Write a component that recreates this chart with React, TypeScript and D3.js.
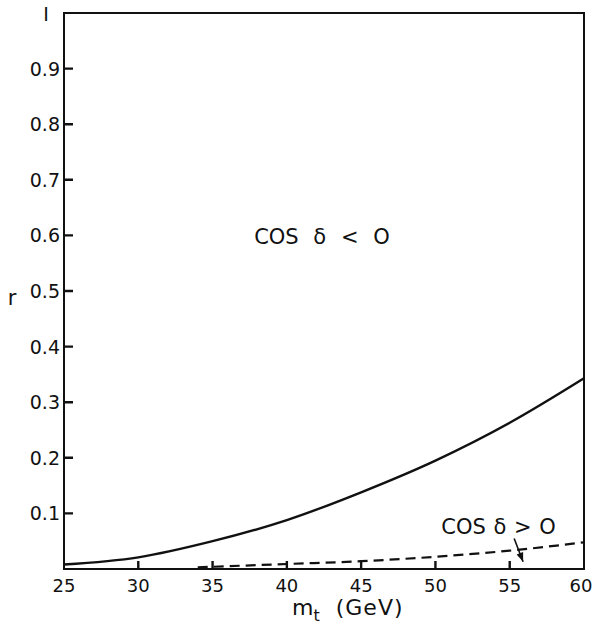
import { useEffect, useRef } from "react";
import * as d3 from "d3";

// m_t (GeV) vs r
const solidMt = [25, 30, 35, 40, 45, 50, 55, 60];
const solidR = [0.008, 0.021, 0.05, 0.088, 0.138, 0.195, 0.263, 0.343];

const dashedMt = [34, 35, 40, 45, 50, 55, 60];
const dashedR = [0.003, 0.004, 0.009, 0.014, 0.022, 0.033, 0.048];

const xTicks = [25, 30, 35, 40, 45, 50, 55, 60];
const yTicks = [0.1, 0.2, 0.3, 0.4, 0.5, 0.6, 0.7, 0.8, 0.9];
const yTickLabels = ["0.1", "0.2", "0.3", "0.4", "0.5", "0.6", "0.7", "0.8", "0.9"];

const labelUpper = "COS δ < O";
const labelLower = "COS δ > O";
const arrowFrom = [55.3, 0.055];
const arrowTo = [55.9, 0.013];

export default function App() {
  const svgRef = useRef<SVGSVGElement | null>(null);

  useEffect(() => {
    const W = 593, H = 627;
    const el = svgRef.current!;
    d3.select(el).selectAll("*").remove();
    const svg = d3.select(el).attr("viewBox", `0 0 ${W} ${H}`);
    const font = "'DejaVu Sans', 'Liberation Sans', sans-serif";

    const x = d3.scaleLinear().domain([25, 60]).range([64, 584]);
    const y = d3.scaleLinear().domain([0, 1]).range([569, 13]);

    // frame
    svg.append("rect")
      .attr("x", x(25)).attr("y", y(1))
      .attr("width", x(60) - x(25)).attr("height", y(0) - y(1))
      .attr("fill", "none").attr("stroke", "#111").attr("stroke-width", 2);

    // inward ticks
    const tickPath = [
      ...xTicks.slice(1, -1).map(d => `M${x(d)},${y(0)}V${y(0) - 8}`),
      ...yTicks.map(d => `M${x(25)},${y(d)}H${x(25) + 9}`),
    ].join("");
    svg.append("path")
      .attr("d", tickPath)
      .attr("fill", "none").attr("stroke", "#111").attr("stroke-width", 2.4);

    // tick labels
    svg.append("g").selectAll("text").data(xTicks).join("text")
      .attr("x", d => (d === 60 ? x(d) - 3 : x(d))).attr("y", y(0) + 23)
      .attr("text-anchor", "middle")
      .attr("font-family", font).attr("font-size", 18).attr("fill", "#111")
      .text(d => d);
    svg.append("g").selectAll("text").data(yTicks).join("text")
      .attr("x", x(25) - 4).attr("y", d => y(d) + 7)
      .attr("text-anchor", "end")
      .attr("font-family", font).attr("font-size", 19).attr("fill", "#111")
      .text((d, i) => yTickLabels[i]);
    svg.append("text")
      .attr("x", 46).attr("y", y(1) + 8)
      .attr("text-anchor", "middle")
      .attr("font-family", font).attr("font-size", 19).attr("fill", "#111")
      .text("I");

    // axis titles
    svg.append("text")
      .attr("x", 12).attr("y", 305).attr("text-anchor", "middle")
      .attr("font-family", font).attr("font-size", 21).attr("fill", "#111")
      .text("r");
    const xt = svg.append("text")
      .attr("x", 292).attr("y", 615)
      .attr("font-family", font).attr("font-size", 22).attr("fill", "#111");
    xt.append("tspan").text("m");
    xt.append("tspan").attr("dy", 6).attr("font-size", 16).text("t");
    xt.append("tspan").attr("dy", -6).attr("dx", 16).attr("letter-spacing", 1).text("(GeV)");

    // curves
    const line = d3.line<[number, number]>()
      .x(d => x(d[0])).y(d => y(d[1])).curve(d3.curveMonotoneX);
    svg.append("path")
      .datum(solidMt.map((m, i) => [m, solidR[i]] as [number, number]))
      .attr("fill", "none").attr("stroke", "#111").attr("stroke-width", 2.4)
      .attr("d", line);
    svg.append("path")
      .datum(dashedMt.map((m, i) => [m, dashedR[i]] as [number, number]))
      .attr("fill", "none").attr("stroke", "#111").attr("stroke-width", 2.2)
      .attr("stroke-dasharray", "10,6")
      .attr("d", line);

    // annotations
    svg.append("text")
      .attr("x", x(37.8)).attr("y", y(0.6) + 9)
      .attr("font-family", font).attr("font-size", 21).attr("fill", "#111")
      .attr("word-spacing", 8)
      .text(labelUpper);
    svg.append("text")
      .attr("x", x(50.4)).attr("y", y(0.063))
      .attr("font-family", font).attr("font-size", 21).attr("fill", "#111")
      .attr("word-spacing", 1)
      .text(labelLower);

    const [ax1, ay1] = [x(arrowFrom[0]), y(arrowFrom[1])];
    const [ax2, ay2] = [x(arrowTo[0]), y(arrowTo[1])];
    svg.append("line")
      .attr("x1", ax1).attr("y1", ay1).attr("x2", ax2).attr("y2", ay2)
      .attr("stroke", "#111").attr("stroke-width", 1.6);
    const ang = Math.atan2(ay2 - ay1, ax2 - ax1);
    const hl = 9, hw = 3.5;
    const bx = ax2 - hl * Math.cos(ang), by = ay2 - hl * Math.sin(ang);
    svg.append("path")
      .attr("d", `M${ax2},${ay2}L${bx - hw * Math.sin(ang)},${by + hw * Math.cos(ang)}L${bx + hw * Math.sin(ang)},${by - hw * Math.cos(ang)}Z`)
      .attr("fill", "#111");
  }, []);

  return (
    <svg
      ref={svgRef}
      width={593}
      height={627}
      style={{ position: "absolute", left: 0, top: 0, background: "#fff" }}
    />
  );
}
